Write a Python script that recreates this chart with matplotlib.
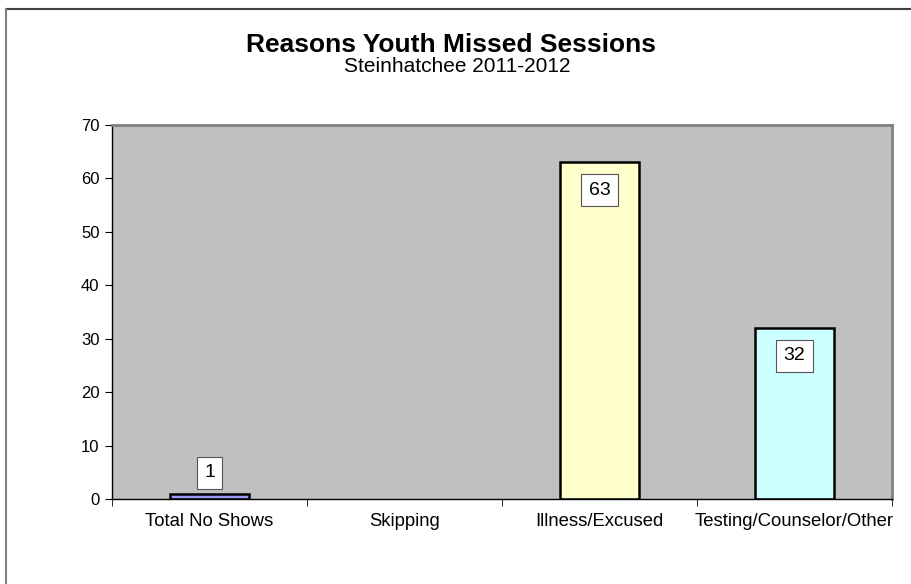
import numpy as np
import matplotlib
matplotlib.use("Agg")
from matplotlib import pyplot as plt
from matplotlib.lines import Line2D

plt.rcParams['font.family'] = ['Liberation Sans', 'DejaVu Sans']

categories = ["Total No Shows", "Skipping", "Illness/Excused", "Testing/Counselor/Other"]
values = [1, 0, 63, 32]
colors = ["#9999FF", "#9999FF", "#FFFFCC", "#CCFFFF"]
title = "Reasons Youth Missed Sessions"
subtitle = "Steinhatchee 2011-2012"

fig = plt.figure(figsize=(9.12, 5.84), dpi=100)
ax = fig.add_axes([112 / 912, 1 - 499 / 584, 780 / 912, 374 / 584])
ax.set_facecolor("#C0C0C0")

x = np.arange(len(categories))
lws = [1.8 if v > 0 else 0 for v in values]
bars = ax.bar(x, values, width=0.405, color=colors, edgecolor="black", linewidth=lws)

for xi, v in zip(x, values):
    if v == 0:
        continue
    # small bars get label above, big ones inside near top
    off = 15 if v < 10 else -20
    ax.annotate(str(v), (xi, v), xytext=(0, off), textcoords="offset points",
                ha="center", va="center", fontsize=14,
                bbox=dict(boxstyle="square,pad=0.38", fc="white", ec="#555555", lw=0.8))

ax.set_xlim(-0.5, len(categories) - 0.5)
ax.set_ylim(0, 70)
ax.set_yticks(np.arange(0, 71, 10))
ax.set_xticks(x)
ax.set_xticklabels(categories, fontsize=13.3)
ax.set_xticks(np.arange(-0.5, len(categories), 1), minor=True)
ax.tick_params(axis="x", which="major", length=0, pad=10)
ax.tick_params(axis="x", which="minor", length=5, direction="out", color="black")
ax.tick_params(axis="y", labelsize=12, length=5, direction="out", pad=4)

for s in ["top", "right"]:
    ax.spines[s].set_color("#808080")
    ax.spines[s].set_linewidth(2)
for s in ["left", "bottom"]:
    ax.spines[s].set_color("black")
    ax.spines[s].set_linewidth(1)

fig.text(451 / 912, 1 - 52 / 584, title, ha="center", va="baseline", fontsize=19, fontweight="bold")
fig.text(457 / 912, 1 - 72 / 584, subtitle, ha="center", va="baseline", fontsize=15)

# outer chart border (runs off the right and bottom edge)
fig.add_artist(Line2D([6 / 912, 1.01], [1 - 9 / 584, 1 - 9 / 584], color="#404040", lw=1.5, transform=fig.transFigure))
fig.add_artist(Line2D([6 / 912, 6 / 912], [1 - 9 / 584, -0.01], color="#808080", lw=1.5, transform=fig.transFigure))

fig.savefig("out.png", dpi=100)
